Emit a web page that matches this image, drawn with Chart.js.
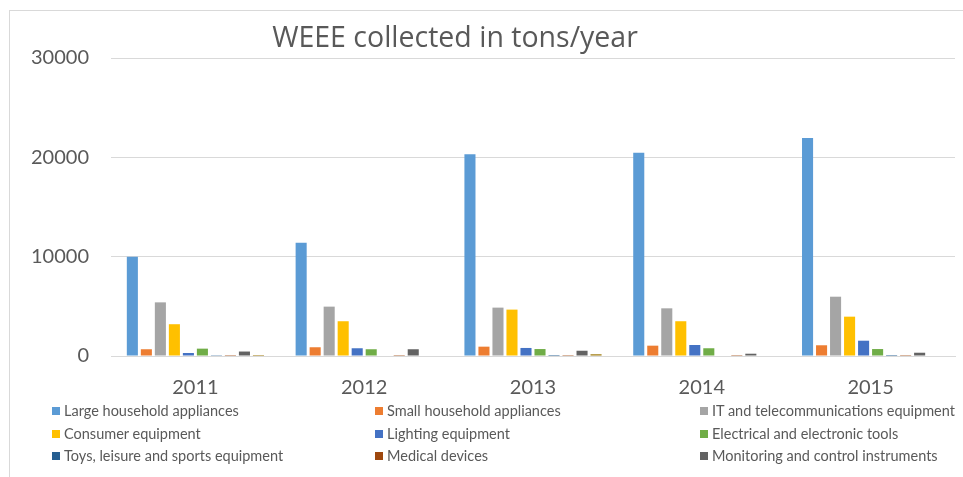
<!DOCTYPE html>
<html>
<head>
<meta charset="utf-8">
<script src="https://cdn.jsdelivr.net/npm/chart.js@4/dist/chart.umd.min.js"></script>
<style>
  html, body { margin:0; padding:0; background:#fff; width:963px; height:477px; overflow:hidden; }
  #frame { position:absolute; left:9px; top:10px; width:960px; height:480px; border-left:1px solid #d9d9d9; border-top:1px solid #d9d9d9; }
  #c { position:absolute; left:9px; top:10px; }
  #title { position:absolute; left:0; width:910px; top:17px; text-align:center; font-family:"Open Sans", sans-serif; font-size:28.5px; color:#595959; white-space:nowrap; }
  #legend { position:absolute; left:0; top:0; width:963px; height:477px; pointer-events:none; }
  .li { position:absolute; font-family:Lato, sans-serif; font-size:14.5px; color:#595959; white-space:nowrap; line-height:16px; }
  .li span.box { display:inline-block; width:8px; height:8px; margin-right:4px; vertical-align:1px; }
</style>
</head>
<body>
<div id="frame"></div>
<canvas id="c" width="954" height="390"></canvas>
<div id="title">WEEE collected in tons/year</div>
<div id="legend"></div>
<script>
const categories = ["2011", "2012", "2013", "2014", "2015"];
const seriesNames = [
  "Large household appliances",
  "Small household appliances",
  "IT and telecommunications equipment",
  "Consumer equipment",
  "Lighting equipment",
  "Electrical and electronic tools",
  "Toys, leisure and sports equipment",
  "Medical devices",
  "Monitoring and control instruments",
  "Automatic dispensers"
];
const largeHousehold   = [10000, 11400, 20300, 20450, 21950];
const smallHousehold   = [680, 880, 940, 1040, 1080];
const itTelecom        = [5400, 4970, 4870, 4800, 5970];
const consumerEquip    = [3200, 3500, 4670, 3500, 3960];
const lightingEquip    = [300, 780, 810, 1110, 1540];
const electricalTools  = [740, 680, 700, 780, 700];
const toysLeisure      = [80, 50, 100, 50, 100];
const medicalDevices   = [10, 10, 10, 10, 10];
const monitoringInstr  = [450, 680, 530, 230, 330];
const automaticDisp    = [100, 50, 170, 50, 50];
const yTicks = [0, 10000, 20000, 30000];

const seriesValues = [largeHousehold, smallHousehold, itTelecom, consumerEquip, lightingEquip,
  electricalTools, toysLeisure, medicalDevices, monitoringInstr, automaticDisp];
const colors = ["#5B9BD5", "#ED7D31", "#A5A5A5", "#FFC000", "#4472C4", "#70AD47",
  "#255E91", "#9E480E", "#636363", "#997300"];

const datasets = seriesNames.map((n, i) => ({
  label: n, data: seriesValues[i], backgroundColor: colors[i],
  categoryPercentage: 0.83, barPercentage: 0.79
}));

const chart = new Chart(document.getElementById('c'), {
  type: 'bar',
  data: { labels: categories, datasets },
  options: {
    responsive: false, animation: false, devicePixelRatio: 1,
    layout: { padding: { top: 48, right: 8, left: 0, bottom: 0 } },
    plugins: { legend: { display: false }, title: { display: false }, tooltip: { enabled: false } },
    scales: {
      x: {
        grid: { display: false, drawTicks: false },
        border: { color: '#d9d9d9', width: 1 },
        ticks: { color: '#595959', font: { family: 'Lato', size: 20 }, padding: 20 },
        afterFit(s) { s.height = 44; }
      },
      y: {
        min: 0, max: 30000,
        afterBuildTicks(s) { s.ticks = yTicks.map(v => ({ value: v })); },
        grid: { color: '#d9d9d9', drawTicks: false },
        border: { display: false },
        ticks: { color: '#595959', font: { family: 'Lato', size: 20 }, padding: 22,
                 callback: v => String(v) },
        afterFit(s) { s.width = 102; }
      }
    }
  }
});

// HTML legend built from the chart's datasets (first nine shown, as in the reference)
const legendEl = document.getElementById('legend');
const colX = [52, 375, 700];
const rowY = [403, 426, 448];
chart.data.datasets.slice(0, 9).forEach((ds, i) => {
  const d = document.createElement('div');
  d.className = 'li';
  d.style.left = colX[i % 3] + 'px';
  d.style.top = rowY[Math.floor(i / 3)] + 'px';
  const b = document.createElement('span');
  b.className = 'box';
  b.style.background = ds.backgroundColor;
  d.appendChild(b);
  d.appendChild(document.createTextNode(ds.label));
  legendEl.appendChild(d);
});
</script>
</body>
</html>
